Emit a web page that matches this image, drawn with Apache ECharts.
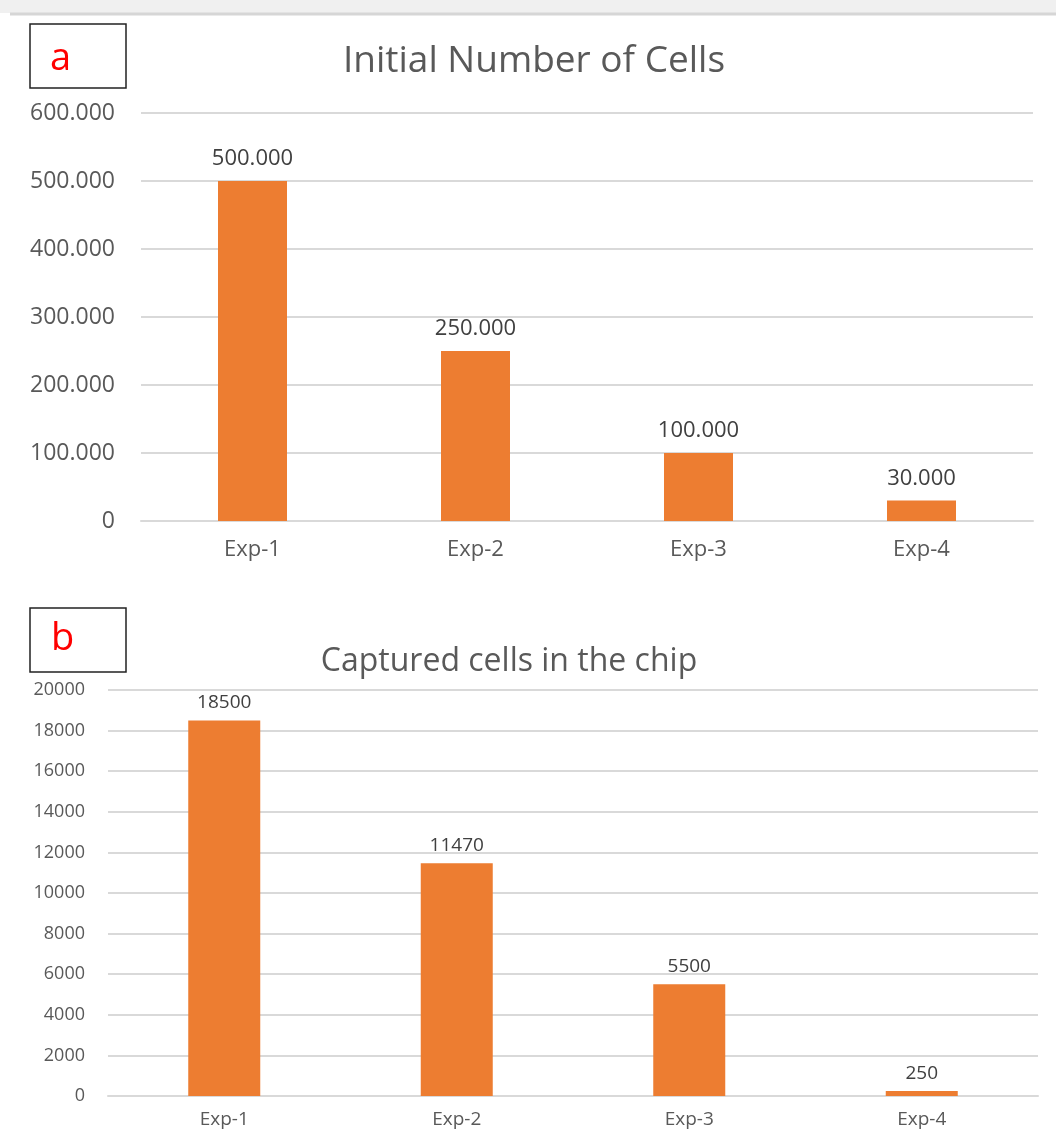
<!DOCTYPE html>
<html>
<head>
<meta charset="utf-8">
<script src="https://cdn.jsdelivr.net/npm/echarts@6/dist/echarts.min.js"></script>
<style>
  html, body { margin: 0; padding: 0; background: #fff; }
  #main { width: 1056px; height: 1136px; }
</style>
</head>
<body>
<div id="main"></div>
<script>
// 数据
var categories = ['Exp-1', 'Exp-2', 'Exp-3', 'Exp-4'];
var initialCells = [500000, 250000, 100000, 30000];
var capturedCells = [18500, 11470, 5500, 250];

var barColor = '#ED7D31';
var textColor = '#595959';
var gridLineColor = '#d9d9d9';

// 100000 -> 100.000
function dotFormat(v) {
    if (v === 0) return '0';
    return String(v).replace(/\B(?=(\d{3})+(?!\d))/g, '.');
}

var myChart = echarts.init(document.getElementById('main'));

var option = {
    animation: false,
    textStyle: { fontFamily: 'Open Sans' },
    title: [
        {
            text: 'Initial Number of Cells',
            left: 529, top: 38, textAlign: 'center',
            textStyle: { fontSize: 37, fontWeight: 'normal', color: textColor, fontFamily: 'Open Sans' }
        },
        {
            text: 'Captured cells in the chip',
            left: 504, top: 641, textAlign: 'center',
            textStyle: { fontSize: 32, fontWeight: 'normal', color: textColor, fontFamily: 'Open Sans' }
        }
    ],
    grid: [
        { left: 141, right: 23, top: 113, height: 408 },
        { left: 108, right: 18, top: 690, height: 406 }
    ],
    xAxis: [
        {
            gridIndex: 0, type: 'category', data: categories,
            axisLine: { lineStyle: { color: gridLineColor, width: 2 } },
            axisTick: { show: false },
            axisLabel: { color: textColor, fontSize: 22, margin: 18 }
        },
        {
            gridIndex: 1, type: 'category', data: categories,
            axisLine: { lineStyle: { color: gridLineColor, width: 2 } },
            axisTick: { show: false },
            axisLabel: { color: textColor, fontSize: 19, margin: 14 }
        }
    ],
    yAxis: [
        {
            gridIndex: 0, type: 'value', min: 0, max: 600000, interval: 100000,
            axisLine: { show: false },
            axisTick: { show: false },
            axisLabel: { color: textColor, fontSize: 23, margin: 26, formatter: dotFormat },
            splitLine: { lineStyle: { color: gridLineColor, width: 2 } }
        },
        {
            gridIndex: 1, type: 'value', min: 0, max: 20000, interval: 2000,
            axisLine: { show: false },
            axisTick: { show: false },
            axisLabel: { color: textColor, fontSize: 18, margin: 23, formatter: function (v) { return String(v); } },
            splitLine: { lineStyle: { color: gridLineColor, width: 2 } }
        }
    ],
    series: [
        {
            name: 'Initial Number of Cells',
            type: 'bar',
            xAxisIndex: 0, yAxisIndex: 0,
            data: initialCells,
            barWidth: 69,
            itemStyle: { color: barColor },
            label: {
                show: true, position: 'top', distance: 11,
                color: '#404040', fontSize: 22,
                formatter: function (p) { return dotFormat(p.value); }
            }
        },
        {
            name: 'Captured cells in the chip',
            type: 'bar',
            xAxisIndex: 1, yAxisIndex: 1,
            data: capturedCells,
            barWidth: 72,
            itemStyle: { color: barColor },
            label: {
                show: true, position: 'top', distance: 8,
                color: '#404040', fontSize: 19
            }
        }
    ],
    graphic: [
        // top strip
        { type: 'rect', shape: { x: 0, y: 0, width: 1056, height: 13 }, style: { fill: '#f0f0f0' }, silent: true },
        { type: 'line', shape: { x1: 10, y1: 14, x2: 1056, y2: 14 }, style: { stroke: '#d6d6d6', lineWidth: 3 }, silent: true },
        // box a
        { type: 'rect', shape: { x: 30, y: 24, width: 96, height: 64 }, style: { fill: '#fff', stroke: '#222', lineWidth: 1.5 } },
        { type: 'text', x: 50, y: 40, style: { text: 'a', fill: '#ff0000', fontSize: 38, fontFamily: 'Open Sans' } },
        // box b
        { type: 'rect', shape: { x: 30, y: 608, width: 96, height: 64 }, style: { fill: '#fff', stroke: '#222', lineWidth: 1.5 } },
        { type: 'text', x: 51, y: 620, style: { text: 'b', fill: '#ff0000', fontSize: 38, fontFamily: 'Open Sans' } }
    ]
};

myChart.setOption(option);
</script>
</body>
</html>
